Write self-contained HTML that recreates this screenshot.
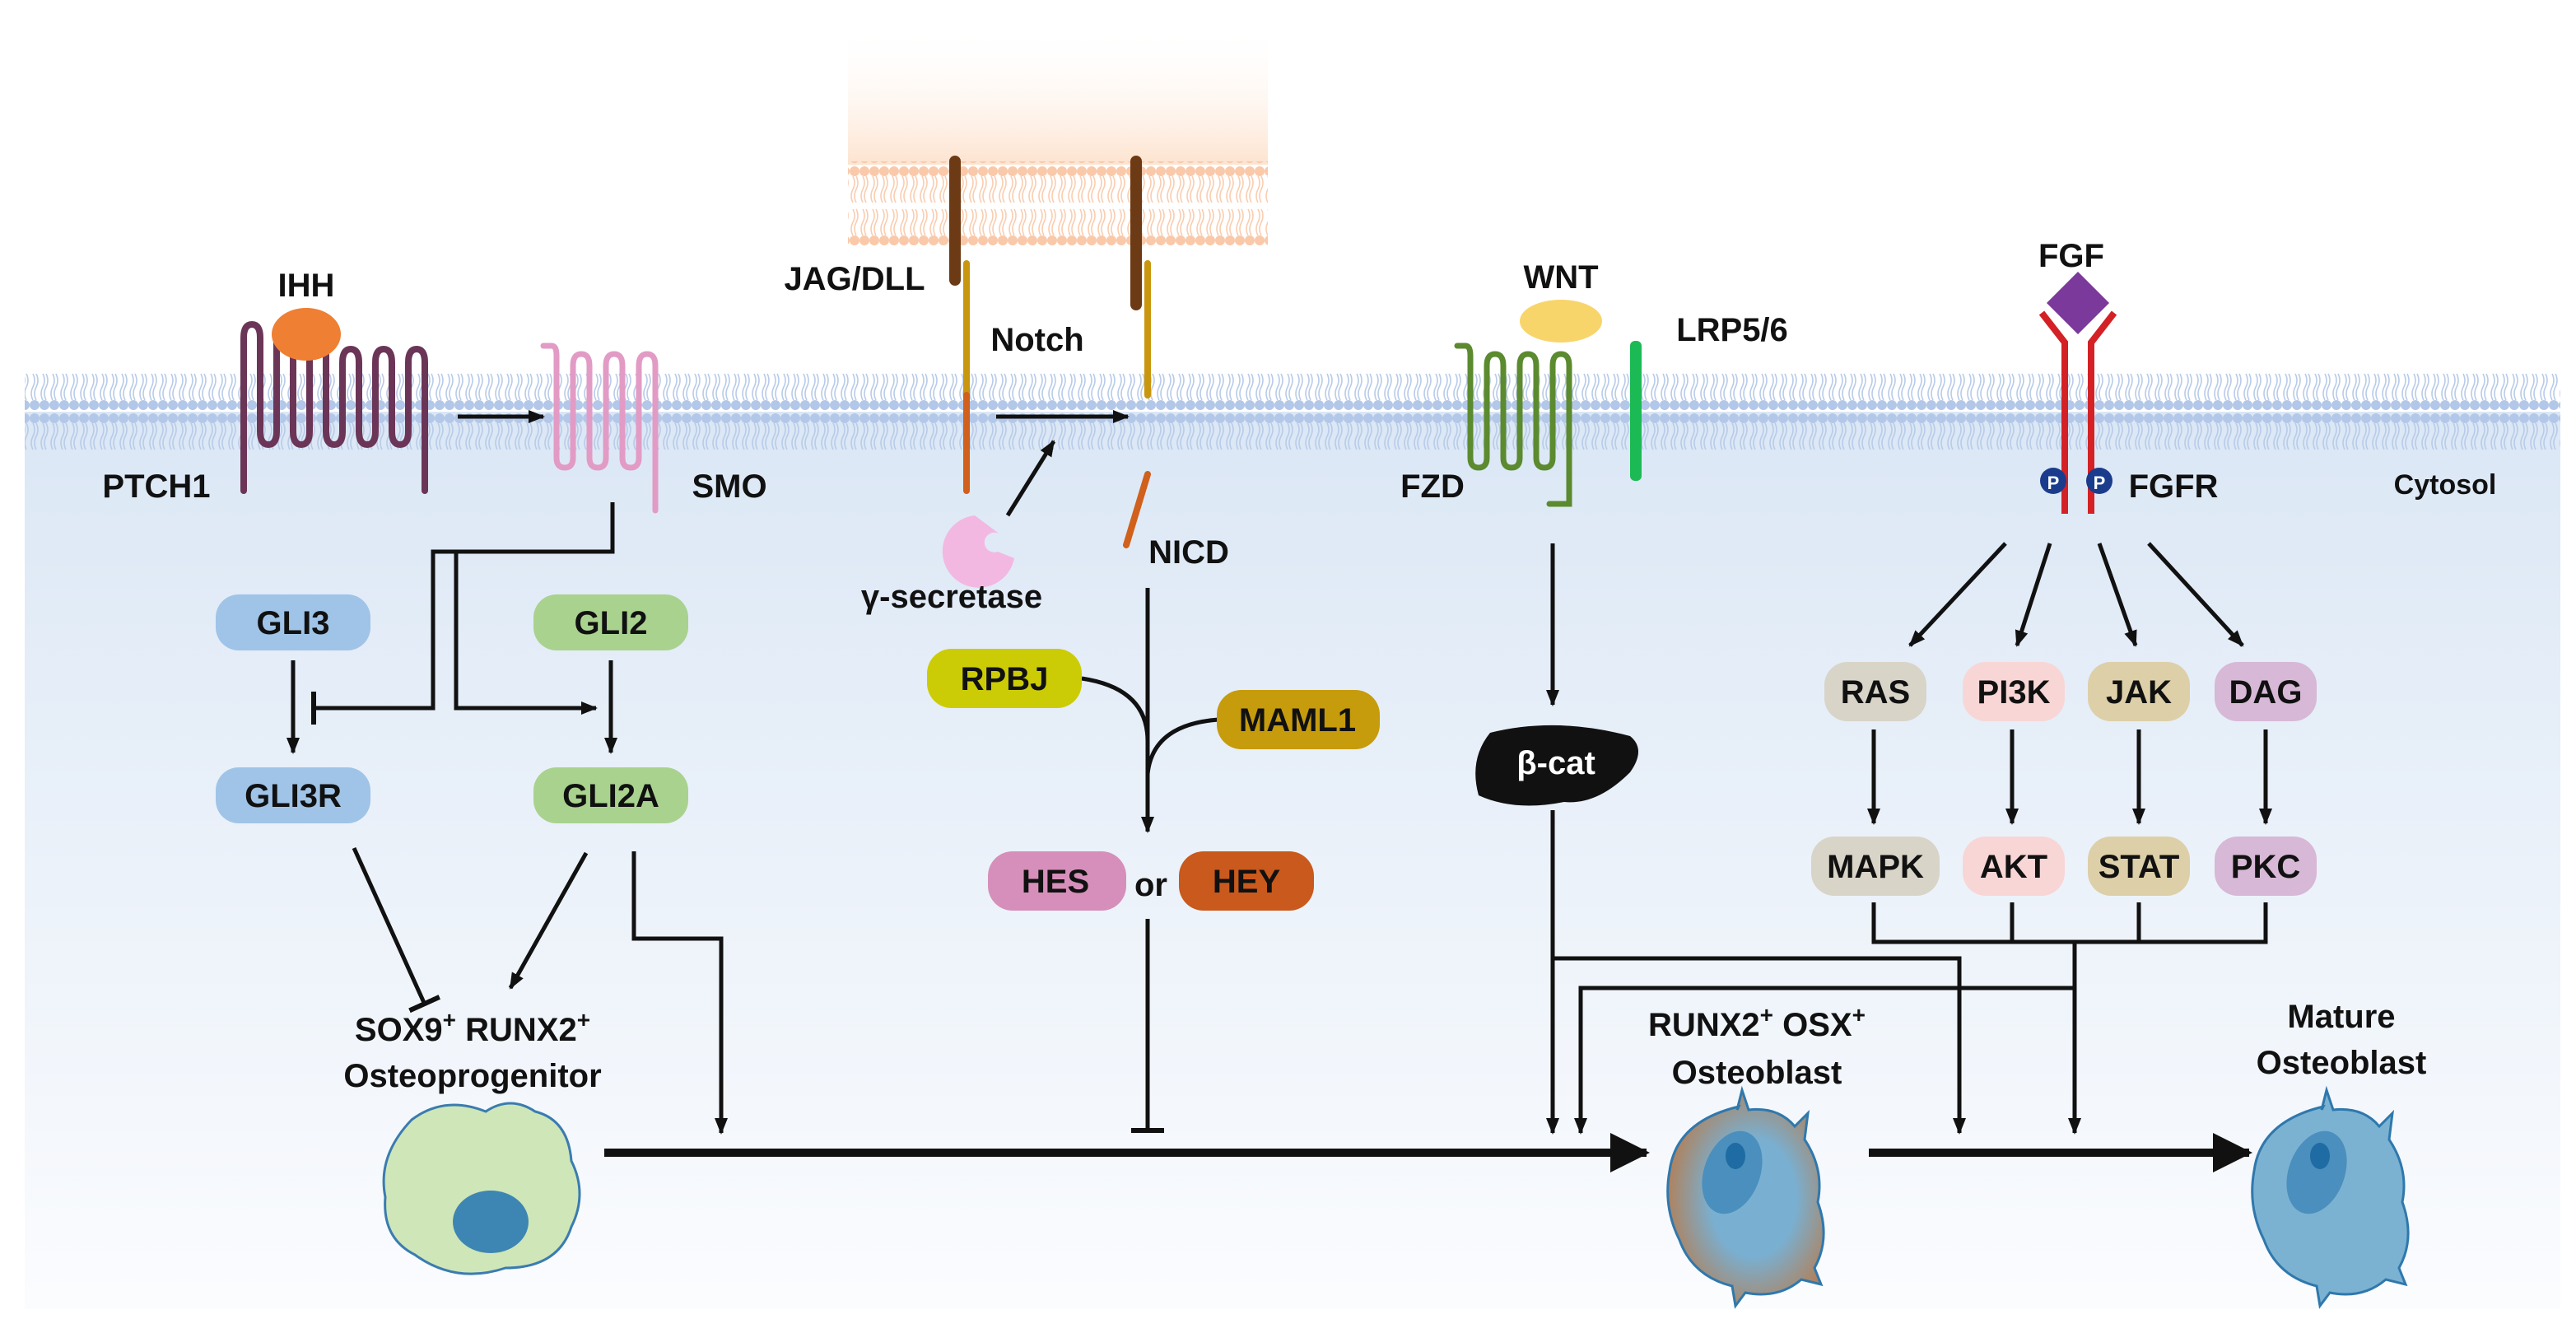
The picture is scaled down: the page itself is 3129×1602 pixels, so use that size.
<!DOCTYPE html>
<html><head><meta charset="utf-8"><style>
html,body{margin:0;padding:0;background:#fff;}
svg{display:block;}
text{font-family:"Liberation Sans",Arial,sans-serif;font-weight:bold;font-size:20px;fill:#111;}
</style></head><body>
<svg width="3129" height="1602" viewBox="0 0 1564.5 801" xmlns="http://www.w3.org/2000/svg">
<defs>
<linearGradient id="cyto" x1="0" y1="0" x2="0" y2="1">
<stop offset="0" stop-color="#dbe7f5"/><stop offset="1" stop-color="#fbfcfe"/>
</linearGradient>
<linearGradient id="glow" x1="0" y1="0" x2="0" y2="1">
<stop offset="0" stop-color="#fff" stop-opacity="0"/><stop offset="1" stop-color="#fde3cf"/>
</linearGradient>
<pattern id="lip" width="6" height="50" patternUnits="userSpaceOnUse">
<circle cx="3" cy="4" r="3" fill="#b3c8e8"/><circle cx="3" cy="46" r="3" fill="#b3c8e8"/>
<path d="M2 7 q2 4 0 8 q-2 4 0 8 M4 7 q2 4 0 8 q-2 4 0 8 M2 27 q2 4 0 8 q-2 4 0 8 M4 27 q2 4 0 8 q-2 4 0 8" stroke="#b8cbe8" stroke-width="0.8" fill="none"/>
</pattern>
<pattern id="lip2" width="6" height="50" patternUnits="userSpaceOnUse">
<circle cx="3" cy="4" r="3" fill="#f9c9aa"/><circle cx="3" cy="46" r="3" fill="#f9c9aa"/>
<path d="M2 7 q2 4 0 8 q-2 4 0 8 M4 7 q2 4 0 8 q-2 4 0 8 M2 27 q2 4 0 8 q-2 4 0 8 M4 27 q2 4 0 8 q-2 4 0 8" stroke="#f9cdb0" stroke-width="0.8" fill="none"/>
</pattern>
<radialGradient id="obg" cx="0.55" cy="0.5" r="0.6">
<stop offset="0.45" stop-color="#79b0d2"/><stop offset="1" stop-color="#b87a4a"/>
</radialGradient>
<marker id="ar" markerWidth="10" markerHeight="10" refX="9" refY="5" orient="auto" markerUnits="userSpaceOnUse"><path d="M0 1 L10 5 L0 9z" fill="#111"/></marker>
<marker id="arb" markerWidth="24" markerHeight="24" refX="22" refY="12" orient="auto" markerUnits="userSpaceOnUse"><path d="M0 0 L24 12 L0 24z" fill="#111"/></marker>
<marker id="inh" markerWidth="4" markerHeight="20" refX="2" refY="10" orient="auto" markerUnits="userSpaceOnUse"><rect x="0" y="0" width="3" height="20" fill="#111"/></marker>
</defs>
<rect width="1564.5" height="801" fill="#fff"/>
<rect x="15" y="250" width="1540" height="545" fill="url(#cyto)"/>
<rect x="515" y="15" width="255" height="85" fill="url(#glow)"/>
<rect x="515" y="98" width="255" height="52" fill="url(#lip2)"/>
<rect x="15" y="226" width="1540" height="50" fill="url(#lip)"/>

<g fill="none" stroke-linecap="round">
<path d="M148 298 V205 q0 -8 5 -8 q5 0 5 8 V262 q0 8 5 8 q5 0 5 -8 V205 q0 -8 5 -8 q5 0 5 8 V262 q0 8 5 8 q5 0 5 -8 V205 q0 -8 5 -8 q5 0 5 8 V262 q0 8 5 8 q5 0 5 -8 V220 q0 -8 5 -8 q5 0 5 8 V262 q0 8 5 8 q5 0 5 -8 V220 q0 -8 5 -8 q5 0 5 8 V262 q0 8 5 8 q5 0 5 -8 V220 q0 -8 5 -8 q5 0 5 8 V298" stroke="#6b3557" stroke-width="4"/>
<path d="M330 210 h5 q3 0 3 6 V278 q0 6 5 6 q5 0 5 -6 V222 q0 -7 5 -7 q5 0 5 7 V278 q0 6 5 6 q5 0 5 -6 V222 q0 -7 5 -7 q5 0 5 7 V278 q0 6 5 6 q5 0 5 -6 V222 q0 -7 5 -7 q5 0 5 7 V310" stroke="#e29bc5" stroke-width="3.5"/>
<path d="M885 210 h5 q3 0 3 6 V278 q0 6 5 6 q5 0 5 -6 V222 q0 -7 5 -7 q5 0 5 7 V278 q0 6 5 6 q5 0 5 -6 V222 q0 -7 5 -7 q5 0 5 7 V278 q0 6 5 6 q5 0 5 -6 V222 q0 -7 5 -7 q5 0 5 7 V306 h-12" stroke="#5b8a2f" stroke-width="3.5"/>
</g>
<ellipse cx="186" cy="203" rx="21" ry="16" fill="#ee7f33"/>
<ellipse cx="948" cy="195" rx="25" ry="13" fill="#f8d56b"/>
<rect x="990" y="207" width="7" height="85" rx="3" fill="#1cba55"/>

<g stroke-linecap="round" fill="none">
<line x1="580" y1="98" x2="580" y2="170" stroke="#6c3a14" stroke-width="7"/>
<line x1="690" y1="98" x2="690" y2="185" stroke="#6c3a14" stroke-width="7"/>
<line x1="587" y1="160" x2="587" y2="240" stroke="#c9960f" stroke-width="4"/>
<line x1="587" y1="240" x2="587" y2="298" stroke="#d0601c" stroke-width="4"/>
<line x1="697" y1="160" x2="697" y2="240" stroke="#c9960f" stroke-width="4"/>
<line x1="697" y1="288" x2="684" y2="331" stroke="#d0601c" stroke-width="4"/>
</g>
<path d="M592 313 a22 22 0 1 0 24 26 l-10 -4 a6 6 0 1 1 2 -10 z" fill="#f2b8e2"/>
<path d="M1262 165 l19 19 l-19 19 l-19 -19z" fill="#7b3a9b"/>
<g stroke="#d42125" stroke-width="4" fill="none">
<path d="M1240 190 l14 18 V312"/><path d="M1284 190 l-14 18 V312"/>
</g>
<circle cx="1247" cy="292" r="8" fill="#1b3c8c"/><circle cx="1275" cy="292" r="8" fill="#1b3c8c"/>
<text x="1247" y="297" text-anchor="middle" style="font-size:11px;fill:#fff">P</text>
<text x="1275" y="297" text-anchor="middle" style="font-size:11px;fill:#fff">P</text>

<g stroke="#111" stroke-width="2.5" fill="none">
<line x1="278" y1="253" x2="330" y2="253" marker-end="url(#ar)"/>
<line x1="605" y1="253" x2="685" y2="253" marker-end="url(#ar)"/>
<line x1="612" y1="313" x2="640" y2="268" marker-end="url(#ar)"/>
<path d="M372 305 V335 H263 V430 H190" marker-end="url(#inh)"/>
<path d="M277 335 V430 H362" marker-end="url(#ar)"/>
<line x1="178" y1="401" x2="178" y2="457" marker-end="url(#ar)"/>
<line x1="371" y1="401" x2="371" y2="457" marker-end="url(#ar)"/>
<line x1="215" y1="515" x2="258" y2="610" marker-end="url(#inh)"/>
<line x1="356" y1="518" x2="310" y2="600" marker-end="url(#ar)"/>
<path d="M385 517 V570 H438 V688" marker-end="url(#ar)"/>
<path d="M697 357 V505" marker-end="url(#ar)"/>
<path d="M657 412 Q697 418 697 450"/>
<path d="M740 437 Q700 440 697 470"/>
<path d="M697 558 V687" marker-end="url(#inh)"/>
<line x1="943" y1="330" x2="943" y2="428" marker-end="url(#ar)"/>
<path d="M943 492 V688" marker-end="url(#ar)"/>
<path d="M943 582 H1190 V688" marker-end="url(#ar)"/>
<path d="M1260 600 H960 V688" marker-end="url(#ar)"/>
<path d="M1138 548 V572 H1376 V548 M1222 548 V572 M1299 548 V572 M1260 572 V688" marker-end="url(#ar)"/>
<line x1="1218" y1="330" x2="1160" y2="392" marker-end="url(#ar)"/>
<line x1="1245" y1="330" x2="1225" y2="392" marker-end="url(#ar)"/>
<line x1="1275" y1="330" x2="1297" y2="392" marker-end="url(#ar)"/>
<line x1="1305" y1="330" x2="1362" y2="392" marker-end="url(#ar)"/>
<line x1="1138" y1="443" x2="1138" y2="500" marker-end="url(#ar)"/>
<line x1="1222" y1="443" x2="1222" y2="500" marker-end="url(#ar)"/>
<line x1="1299" y1="443" x2="1299" y2="500" marker-end="url(#ar)"/>
<line x1="1376" y1="443" x2="1376" y2="500" marker-end="url(#ar)"/>
</g>
<g stroke="#111" stroke-width="5" fill="none">
<line x1="367" y1="700" x2="1000" y2="700" marker-end="url(#arb)"/>
<line x1="1135" y1="700" x2="1366" y2="700" marker-end="url(#arb)"/>
</g>

<g>
<rect x="131" y="361" width="94" height="34" rx="14" fill="#9fc4e7"/>
<rect x="324" y="361" width="94" height="34" rx="14" fill="#a9d28f"/>
<rect x="131" y="466" width="94" height="34" rx="14" fill="#9fc4e7"/>
<rect x="324" y="466" width="94" height="34" rx="14" fill="#a9d28f"/>
<rect x="563" y="394" width="94" height="36" rx="15" fill="#cccc06"/>
<rect x="739" y="419" width="99" height="36" rx="15" fill="#c69b0c"/>
<rect x="600" y="517" width="84" height="36" rx="15" fill="#d68fba"/>
<rect x="716" y="517" width="82" height="36" rx="15" fill="#c9591c"/>
<rect x="1108" y="402" width="62" height="36" rx="14" fill="#d8d4c8"/>
<rect x="1192" y="402" width="62" height="36" rx="14" fill="#f8d6d6"/>
<rect x="1268" y="402" width="62" height="36" rx="14" fill="#ddcfa8"/>
<rect x="1345" y="402" width="62" height="36" rx="14" fill="#d7b8d6"/>
<rect x="1100" y="508" width="78" height="36" rx="14" fill="#d8d4c8"/>
<rect x="1192" y="508" width="62" height="36" rx="14" fill="#f8d6d6"/>
<rect x="1268" y="508" width="62" height="36" rx="14" fill="#ddcfa8"/>
<rect x="1345" y="508" width="62" height="36" rx="14" fill="#d7b8d6"/>
</g>
<path d="M905 445 q40 -10 85 2 q10 8 0 22 q-20 20 -40 18 q-30 6 -52 -4 q-6 -22 7 -38z" fill="#111"/>

<path d="M250 680 q20 -15 45 -5 q15 -10 30 0 q20 5 22 30 q10 20 0 40 q-8 25 -40 25 q-30 10 -55 -8 q-20 -10 -18 -35 q-5 -25 16 -47z" fill="#cfe6b8" stroke="#3a7cb0" stroke-width="1.5"/>
<ellipse cx="298" cy="742" rx="23" ry="19" fill="#3d86b3"/>

<path d="M1055 674 l3 -12 l4 12 q18 -2 28 10 l8 -8 l-2 16 q12 18 8 38 q8 22 -2 40 l4 10 l-12 -3 q-14 12 -34 8 l-6 8 l-2 -12 q-24 -6 -32 -28 q-10 -20 -6 -42 q4 -30 42 -39z" fill="url(#obg)" stroke="#2f78ad" stroke-width="1.5"/>
<ellipse cx="1052" cy="712" rx="17" ry="26" fill="#4a8fbd" transform="rotate(20 1052 712)"/>
<ellipse cx="1054" cy="702" rx="6" ry="8" fill="#1e6ca3"/>
<path d="M1410 674 l3 -12 l4 12 q18 -2 28 10 l8 -8 l-2 16 q12 18 8 38 q8 22 -2 40 l4 10 l-12 -3 q-14 12 -34 8 l-6 8 l-2 -12 q-24 -6 -32 -28 q-10 -20 -6 -42 q4 -30 42 -39z" fill="#7bb2d2" stroke="#2f78ad" stroke-width="1.5"/>
<ellipse cx="1407" cy="712" rx="17" ry="26" fill="#4a8fbd" transform="rotate(20 1407 712)"/>
<ellipse cx="1409" cy="702" rx="6" ry="8" fill="#1e6ca3"/>

<g text-anchor="middle">
<text x="186" y="180">IHH</text>
<text x="95" y="302">PTCH1</text>
<text x="443" y="302">SMO</text>
<text x="519" y="176">JAG/DLL</text>
<text x="630" y="213">Notch</text>
<text x="722" y="342">NICD</text>
<text x="578" y="369">γ-secretase</text>
<text x="948" y="175">WNT</text>
<text x="1052" y="207">LRP5/6</text>
<text x="870" y="302">FZD</text>
<text x="1258" y="162">FGF</text>
<text x="1320" y="302">FGFR</text>
<text x="1485" y="300" style="font-size:17px">Cytosol</text>
<text x="178" y="385">GLI3</text>
<text x="371" y="385">GLI2</text>
<text x="178" y="490">GLI3R</text>
<text x="371" y="490">GLI2A</text>
<text x="610" y="419">RPBJ</text>
<text x="788" y="444">MAML1</text>
<text x="641" y="542">HES</text>
<text x="699" y="544">or</text>
<text x="757" y="542">HEY</text>
<text x="945" y="470" style="fill:#fff">β-cat</text>
<text x="1139" y="427">RAS</text>
<text x="1223" y="427">PI3K</text>
<text x="1299" y="427">JAK</text>
<text x="1376" y="427">DAG</text>
<text x="1139" y="533">MAPK</text>
<text x="1223" y="533">AKT</text>
<text x="1299" y="533">STAT</text>
<text x="1376" y="533">PKC</text>
<text x="287" y="632">SOX9<tspan dy="-8" style="font-size:14px">+</tspan><tspan dy="8"> RUNX2</tspan><tspan dy="-8" style="font-size:14px">+</tspan></text>
<text x="287" y="660">Osteoprogenitor</text>
<text x="1067" y="629">RUNX2<tspan dy="-8" style="font-size:14px">+</tspan><tspan dy="8"> OSX</tspan><tspan dy="-8" style="font-size:14px">+</tspan></text>
<text x="1067" y="658">Osteoblast</text>
<text x="1422" y="624">Mature</text>
<text x="1422" y="652">Osteoblast</text>
</g>
</svg>
</body></html>
